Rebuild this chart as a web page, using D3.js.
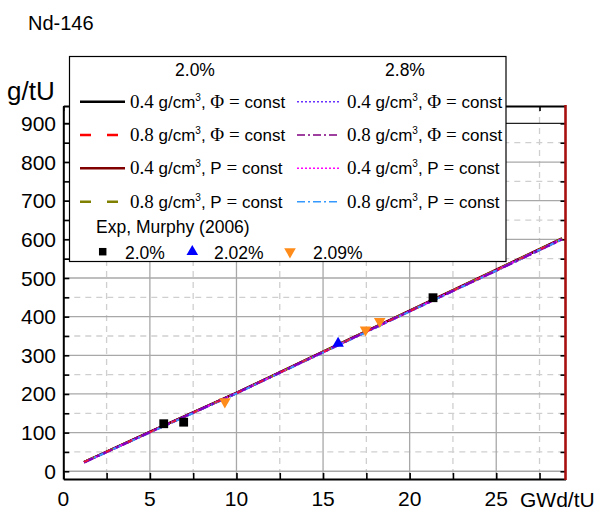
<!DOCTYPE html>
<html>
<head>
<meta charset="utf-8">
<script src="https://cdn.jsdelivr.net/npm/d3@7"></script>
<style>
  html, body { margin: 0; padding: 0; background: #fff; }
  svg { display: block; }
  text { font-family: "Liberation Sans", Arial, sans-serif; fill: #000; }
  .serif { font-family: "Liberation Serif", "Times New Roman", serif; }
</style>
</head>
<body>
<svg id="chart" width="606" height="513"></svg>
<script>
// Nd-146 content versus burnup, calculated curves and measurements
const burnup = [1.2, 5, 10, 15, 20, 25, 28.8];

// enrichment 2.0 %
const phi04_20 = [24, 102, 203, 309, 415, 521, 602];
const phi08_20 = [24, 101, 202, 308, 414, 520, 601];
const p04_20   = [24, 102, 203, 310, 416, 522, 603];
const p08_20   = [24, 101, 202, 309, 415, 521, 602];
// enrichment 2.8 %
const phi04_28 = [23, 101, 202, 308, 414, 520, 601];
const phi08_28 = [23, 101, 202, 308, 414, 519, 600];
const p04_28   = [23, 101, 202, 308, 414, 520, 601];
const p08_28   = [23, 100, 201, 307, 413, 519, 600];

// Murphy (2006) measurements
const exp20x  = [5.8, 6.95, 21.35];
const exp20y  = [123, 127, 449];
const exp202x = [15.87];
const exp202y = [331];
const exp209x = [9.33, 17.45, 18.27];
const exp209y = [180, 366, 388];

const xTicks = [0, 5, 10, 15, 20, 25];
const yTicks = [0, 100, 200, 300, 400, 500, 600, 700, 800, 900];

const svg = d3.select("#chart");
const x = d3.scaleLinear().domain([0, 29]).range([63.3, 565.5]);
const y = d3.scaleLinear().domain([-20, 945]).range([479, 106]);

const L = x.range()[0], R = x.range()[1], T = y.range()[1], B = y.range()[0];

// grid
const grid = svg.append("g");
const xMinor = d3.range(2.5, 29, 5);
const yMinor = d3.range(50, 945, 100);
grid.selectAll(".gxm").data(xMinor).enter().append("line")
  .attr("x1", d => x(d)).attr("x2", d => x(d)).attr("y1", T).attr("y2", B)
  .attr("stroke", "#cfcfcf").attr("stroke-width", 1.3).attr("stroke-dasharray", "6,5");
grid.selectAll(".gym").data(yMinor).enter().append("line")
  .attr("x1", L).attr("x2", R).attr("y1", d => y(d)).attr("y2", d => y(d))
  .attr("stroke", "#cfcfcf").attr("stroke-width", 1.3).attr("stroke-dasharray", "6,5");
grid.selectAll(".gx").data(xTicks.slice(1)).enter().append("line")
  .attr("x1", d => x(d)).attr("x2", d => x(d)).attr("y1", T).attr("y2", B)
  .attr("stroke", "#a8a8a8").attr("stroke-width", 1.3);
grid.selectAll(".gy").data(yTicks).enter().append("line")
  .attr("x1", L).attr("x2", R).attr("y1", d => y(d)).attr("y2", d => y(d))
  .attr("stroke", d => d === 900 ? "#222" : "#a8a8a8").attr("stroke-width", 1.3);

// axes with inward ticks
const axB = d3.axisBottom(x).tickValues(d3.range(0, 29, 2.5)).tickFormat("").tickSizeInner(-6).tickSizeOuter(0);
const axT = d3.axisTop(x).tickValues(d3.range(0, 29, 2.5)).tickFormat("").tickSizeInner(-5).tickSizeOuter(0);
const axL = d3.axisLeft(y).tickValues(d3.range(0, 945, 50)).tickFormat("").tickSizeInner(-6).tickSizeOuter(0);
const axR = d3.axisRight(y).tickValues(d3.range(0, 945, 50)).tickFormat("").tickSizeInner(-5).tickSizeOuter(0);

function styleAxis(g, col) {
  g.selectAll(".domain").attr("stroke", col).attr("stroke-width", 2);
  g.selectAll(".tick line").attr("stroke", "#000").attr("stroke-width", 1.6);
}
svg.append("g").attr("transform", `translate(0,${B})`).call(axB).call(g => styleAxis(g, "#000"));
svg.append("g").attr("transform", `translate(0,${T})`).call(axT).call(g => styleAxis(g, "#000"));
svg.append("g").attr("transform", `translate(${L},0)`).call(axL).call(g => styleAxis(g, "#000"));
const rAx = svg.append("g").attr("transform", `translate(${R},0)`).call(axR).call(g => styleAxis(g, "#000"));
rAx.select(".domain").remove();

// tick labels
svg.append("g").selectAll("text").data(xTicks).enter().append("text")
  .attr("x", d => x(d)).attr("y", 506).attr("text-anchor", "middle")
  .attr("font-size", 21).text(d => d);
svg.append("g").selectAll("text").data(yTicks).enter().append("text")
  .attr("x", 56).attr("y", d => y(d) + 7.5).attr("text-anchor", "end")
  .attr("font-size", 21).text(d => d);

// curves
const series = [
  { v: phi04_20, color: "#000000", dash: null, w: 2.2 },
  { v: phi08_20, color: "#ff0000", dash: "12,8", w: 2.2 },
  { v: p04_20,   color: "#800000", dash: null, w: 2.2 },
  { v: p08_20,   color: "#808000", dash: "12,8", w: 2.2 },
  { v: phi04_28, color: "#6633ff", dash: "2,2", w: 2 },
  { v: phi08_28, color: "#800080", dash: "8,3,2,3", w: 2.2 },
  { v: p04_28,   color: "#ff00ff", dash: "2,2", w: 2 },
  { v: p08_28,   color: "#3399ff", dash: "8,3,2,3", w: 2 }
];
const line = d3.line().x((d, i) => x(burnup[i])).y(d => y(d));
const curves = svg.append("g");
series.forEach(s => {
  curves.append("path").attr("d", line(s.v)).attr("fill", "none")
    .attr("stroke", s.color).attr("stroke-width", s.w)
    .attr("stroke-dasharray", s.dash);
});
// the violet overlay that dominates the bundle, with red dashes showing through
curves.append("path").attr("d", line(phi08_28)).attr("fill", "none")
  .attr("stroke", "#8200c0").attr("stroke-width", 2.3).attr("stroke-dasharray", "10,4,3,4");
curves.append("path").attr("d", line(phi08_20)).attr("fill", "none")
  .attr("stroke", "#ff1a1a").attr("stroke-width", 1.6).attr("stroke-dasharray", "5,19")
  .attr("opacity", 0.85);

// right axis line in dark red
svg.append("line").attr("x1", R).attr("x2", R).attr("y1", T - 1).attr("y2", B + 1)
  .attr("stroke", "#a80f0f").attr("stroke-width", 2.6);

// measured points
const sq = d3.symbol().type(d3.symbolSquare).size(78);
const tri = d3.symbol().type(d3.symbolTriangle).size(58);
const pts = svg.append("g");
exp20x.forEach((bx, i) => pts.append("path").attr("d", sq())
  .attr("transform", `translate(${x(bx)},${y(exp20y[i])})`).attr("fill", "#000"));
exp202x.forEach((bx, i) => pts.append("path").attr("d", tri())
  .attr("transform", `translate(${x(bx)},${y(exp202y[i])})`).attr("fill", "#0000ff"));
exp209x.forEach((bx, i) => pts.append("path").attr("d", tri())
  .attr("transform", `translate(${x(bx)},${y(exp209y[i])}) rotate(180)`).attr("fill", "#ff8c1a"));

// legend
const lg = svg.append("g");
lg.append("rect").attr("x", 69.5).attr("y", 56.5).attr("width", 436.5).attr("height", 205)
  .attr("fill", "#fff").attr("stroke", "#000").attr("stroke-width", 1.2);
lg.append("text").attr("x", 195).attr("y", 76).attr("text-anchor", "middle").attr("font-size", 17.5).text("2.0%");
lg.append("text").attr("x", 405).attr("y", 76).attr("text-anchor", "middle").attr("font-size", 17.5).text("2.8%");

const legendRows = [
  { dens: "0.4", sym: "Φ", serifSym: true },
  { dens: "0.8", sym: "Φ", serifSym: true },
  { dens: "0.4", sym: "P", serifSym: false },
  { dens: "0.8", sym: "P", serifSym: false }
];
const rowY = [101.7, 135, 168.3, 201.7];
function legendLabel(tx, ty, row) {
  const t = lg.append("text").attr("x", tx).attr("y", ty).attr("font-size", 17);
  t.append("tspan").attr("class", "serif").attr("font-size", 19).text(row.dens + " ");
  t.append("tspan").text("g/cm");
  t.append("tspan").attr("font-size", 10).attr("dy", -7).text("3");
  t.append("tspan").attr("dy", 7).text(", ");
  t.append("tspan").attr("class", row.serifSym ? "serif" : null).attr("font-size", row.serifSym ? 19 : 17).text(row.sym);
  t.append("tspan").attr("class", "serif").attr("font-size", 19).text(" = ");
  t.append("tspan").text("const");
}
series.forEach((s, i) => {
  const col = i < 4 ? 0 : 1;
  const r = i % 4;
  const x1 = col === 0 ? 80 : 297, x2 = col === 0 ? 125 : 340;
  let dash = s.dash;
  if (i === 1 || i === 3) dash = "11,16";
  lg.append("line").attr("x1", x1).attr("x2", x2).attr("y1", rowY[r]).attr("y2", rowY[r])
    .attr("stroke", s.color).attr("stroke-width", i < 4 ? 2.6 : 1.6).attr("stroke-dasharray", dash);
  legendLabel(col === 0 ? 130 : 347, rowY[r] + 6, legendRows[r]);
});
lg.append("text").attr("x", 96).attr("y", 233).attr("font-size", 17.5).text("Exp, Murphy (2006)");
const mY = 251.7;
lg.append("path").attr("d", d3.symbol().type(d3.symbolSquare).size(56)()).attr("transform", `translate(102.7,${mY})`).attr("fill", "#000");
lg.append("text").attr("x", 125).attr("y", mY + 7).attr("font-size", 17.5).text("2.0%");
lg.append("path").attr("d", tri()).attr("transform", `translate(192.3,${mY})`).attr("fill", "#0000ff");
lg.append("text").attr("x", 214).attr("y", mY + 7).attr("font-size", 17.5).text("2.02%");
lg.append("path").attr("d", tri()).attr("transform", `translate(290,${mY}) rotate(180)`).attr("fill", "#ff8c1a");
lg.append("text").attr("x", 313).attr("y", mY + 7).attr("font-size", 17.5).text("2.09%");

// titles
svg.append("text").attr("x", 28).attr("y", 30).attr("font-size", 20).text("Nd-146");
svg.append("text").attr("x", 7).attr("y", 100).attr("font-size", 26).text("g/tU");
svg.append("text").attr("x", 520).attr("y", 507).attr("font-size", 21).text("GWd/tU");
</script>
</body>
</html>
